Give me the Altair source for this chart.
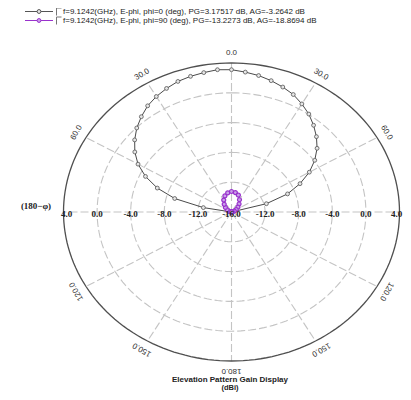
import altair as alt
import numpy as np
import pandas as pd

# ---------------- data ----------------
THETA_PHI0 = list(range(-90, 95, 5))
GAIN_PHI0 = [-16, -16, -12.6, -9.0, -6.6, -4.7, -3.15, -1.95, -0.95, -0.05,
             0.7, 1.4, 1.9, 2.3, 2.65, 2.85, 3.0, 3.17, 3.1, 2.85,
             2.6, 2.25, 1.85, 1.4, 0.75, 0.05, -0.8, -1.7, -2.7, -3.9,
             -5.3, -7.0, -8.9, -11.7, -16, -16, -16]
THETA_PHI90 = list(range(-90, 100, 10))
GAIN_PHI90 = [-16, -15.9, -15.65, -15.4, -15.05, -14.65, -14.15, -13.7, -13.4, -13.25,
              -13.35, -13.6, -14.1, -14.6, -15.0, -15.35, -15.65, -15.9, -16]

LEGEND_LABELS = [
    "f=9.1242(GHz), E-phi, phi=0 (deg), PG=3.17517 dB, AG=-3.2642 dB",
    "f=9.1242(GHz), E-phi, phi=90 (deg), PG=-13.2273 dB, AG=-18.8694 dB",
]
RING_GAINS = [-12, -8, -4, 0]
OUTER_GAIN = 4
CENTER_GAIN = -16
SPOKE_ANGLES = list(range(0, 360, 30))
ANGLE_TICKS = [0, 30, 60, 120, 150, 180, -30, -60, -120, -150]
RADIAL_TICKS = [4, 0, -4, -8, -12, -16, -12, -8, -4, 0, 4]
RADIAL_SIDES = [-90, -90, -90, -90, -90, 0, 90, 90, 90, 90, 90]
RADIAL_NUDGE = [3, 0, 0, 0, 0, 0, 0, 0, 0, 0, -3]   # px, keep edge labels inside
TITLE = "Elevation Pattern Gain Display"
SUBTITLE = "(dBi)"
SIDE_LABEL = "(180\u2212\u03c6)"

# ---------------- layout ----------------
W, H = 395, 384
PCX, PCY = 231.5, 212.0   # page position of polar centre
RX, RY = 168.0, 149.0     # outer ring radii in px
XD = [(8 - PCX) / RX, (8 + W - PCX) / RX]
YD = [(PCY - (8 + H)) / RY, (PCY - 8) / RY]


def pg(px, py):
    return (px - PCX) / RX, (PCY - py) / RY


def xenc(f="x"):
    return alt.X(f"{f}:Q", scale=alt.Scale(domain=XD, nice=False, zero=False), axis=None)


def yenc(f="y"):
    return alt.Y(f"{f}:Q", scale=alt.Scale(domain=YD, nice=False, zero=False), axis=None)


SPAN = OUTER_GAIN - CENTER_GAIN


def polar(chart):
    return chart.transform_calculate(
        r=f"max(0, (datum.gain - ({CENTER_GAIN})) / {SPAN})"
    ).transform_calculate(
        x="datum.r * sin(datum.theta * PI / 180)",
        y="datum.r * cos(datum.theta * PI / 180)",
    )


GRID = "#c4c4c4"

# rings
angles = np.arange(0, 362, 2)
ring_df = pd.DataFrame([{"ring": g, "gain": g, "theta": float(a)} for g in RING_GAINS for a in angles])
outer_df = pd.DataFrame([{"ring": OUTER_GAIN, "gain": OUTER_GAIN, "theta": float(a)} for a in angles])
spoke_df = pd.DataFrame([{"spoke": a, "gain": g, "theta": a, "k": i}
                         for a in SPOKE_ANGLES for i, g in enumerate([CENTER_GAIN, OUTER_GAIN])])

rings = polar(alt.Chart(ring_df)).mark_line(
    color=GRID, strokeWidth=1.1, strokeDash=[8, 3]
).encode(x=xenc(), y=yenc(), detail="ring:N", order="theta:Q")

spokes = polar(alt.Chart(spoke_df)).mark_line(
    color=GRID, strokeWidth=1.1, strokeDash=[8, 3]
).encode(x=xenc(), y=yenc(), detail="spoke:N", order="k:Q")

outer = polar(alt.Chart(outer_df)).mark_line(
    color="#4f4f4f", strokeWidth=1.3
).encode(x=xenc(), y=yenc(), order="theta:Q")

# series
phi0_df = pd.DataFrame({"theta": THETA_PHI0, "gain": GAIN_PHI0})
phi90_df = pd.DataFrame({"theta": THETA_PHI90, "gain": GAIN_PHI90})

C0 = "#4a4a4a"
C90 = "#9932cc"

phi0_line = polar(alt.Chart(phi0_df)).mark_line(color=C0, strokeWidth=1).encode(
    x=xenc(), y=yenc(), order="theta:Q")
phi0_pts = polar(alt.Chart(phi0_df)).mark_point(
    shape="circle", size=15, fill="#e6e6e6", fillOpacity=1, stroke="#555555", strokeWidth=0.8, opacity=1
).encode(x=xenc(), y=yenc())

phi90_line = polar(alt.Chart(phi90_df)).mark_line(color=C90, strokeWidth=1.5).encode(
    x=xenc(), y=yenc(), order="theta:Q")
phi90_pts = polar(alt.Chart(phi90_df)).mark_point(
    shape="circle", size=16, fill="#c9a0e8", fillOpacity=1, stroke=C90, strokeWidth=1.2, opacity=1
).encode(x=xenc(), y=yenc())

# angle labels
LR = 1.065
ang_df = pd.DataFrame({
    "theta": ANGLE_TICKS,
    "label": [f"{abs(a):.1f}" for a in ANGLE_TICKS],
    "rot": [a % 360 for a in ANGLE_TICKS],
})
ang_labels = alt.Chart(ang_df).transform_calculate(
    x=f"{LR} * sin(datum.theta * PI / 180)",
    y=f"{LR} * cos(datum.theta * PI / 180)",
).mark_text(font="Liberation Sans", fontSize=8, color="#333333", baseline="middle", align="center").encode(
    x=xenc(), y=yenc(), text="label:N", angle=alt.Angle("rot:Q", scale=None))

# radial tick labels along horizontal
rad_df = pd.DataFrame({"gain": RADIAL_TICKS, "theta": RADIAL_SIDES, "nudge": RADIAL_NUDGE,
                       "label": [f"{g:.1f}" for g in RADIAL_TICKS]})
rad_labels = polar(alt.Chart(rad_df)).transform_calculate(
    xl=f"datum.x + datum.nudge / {RX}"
).mark_text(
    font="Liberation Serif", fontWeight="bold", fontSize=9, color="#222222",
    baseline="middle", align="center", dy=2
).encode(x=xenc("xl"), y=yenc(), text="label:N")

# side label
sx, sy = pg(36, 206)
side_df = pd.DataFrame({"x": [sx], "y": [sy], "label": [SIDE_LABEL]})
side = alt.Chart(side_df).mark_text(
    font="Liberation Serif", fontWeight="bold", fontSize=9, color="#222222", baseline="middle", align="center"
).encode(x=xenc(), y=yenc(), text="label:N")

# title
t1 = pg(230, 379.5)
t2 = pg(230, 388.3)
title = alt.Chart(pd.DataFrame({"x": [t1[0]], "y": [t1[1]], "label": [TITLE]})).mark_text(
    font="Liberation Sans", fontWeight="bold", fontSize=8, color="#222222", baseline="middle", align="center"
).encode(x=xenc(), y=yenc(), text="label:N")
subtitle = alt.Chart(pd.DataFrame({"x": [t2[0]], "y": [t2[1]], "label": [SUBTITLE]})).mark_text(
    font="Liberation Sans", fontWeight="bold", fontSize=7.5, color="#222222", baseline="middle", align="center"
).encode(x=xenc(), y=yenc(), text="label:N")

# legend
ROWS = [11.5, 20.5]
COLS = [C0, C90]
leg_layers = []
for i, (ry, col, lab) in enumerate(zip(ROWS, COLS, LEGEND_LABELS)):
    a = pg(25, ry)
    b = pg(53, ry)
    ldf = pd.DataFrame({"x": [a[0], b[0]], "y": [a[1], b[1]], "k": [0, 1]})
    leg_layers.append(alt.Chart(ldf).mark_line(color=col if i else "#555555", strokeWidth=1).encode(
        x=xenc(), y=yenc(), order="k:Q"))
    m = pg(39, ry)
    mdf = pd.DataFrame({"x": [m[0]], "y": [m[1]]})
    leg_layers.append(alt.Chart(mdf).mark_point(
        shape="circle", size=15, fill="#e6e6e6" if i == 0 else "#c9a0e8", fillOpacity=1,
        stroke="#555555" if i == 0 else C90, strokeWidth=1, opacity=1).encode(x=xenc(), y=yenc()))
    p1, p2, p3 = pg(56.5, ry + 4), pg(56.5, ry - 3.5), pg(61.5, ry - 3.5)
    bdf = pd.DataFrame({"x": [p1[0], p2[0], p3[0]], "y": [p1[1], p2[1], p3[1]], "k": [0, 1, 2]})
    leg_layers.append(alt.Chart(bdf).mark_line(color="#777777", strokeWidth=1).encode(
        x=xenc(), y=yenc(), order="k:Q"))
    t = pg(63, ry)
    tdf = pd.DataFrame({"x": [t[0]], "y": [t[1]], "label": [lab]})
    leg_layers.append(alt.Chart(tdf).mark_text(
        font="Liberation Sans", fontSize=8, color="#222222", baseline="middle", align="left"
    ).encode(x=xenc(), y=yenc(), text="label:N"))

chart = alt.layer(
    rings, spokes, outer, phi0_line, phi0_pts, phi90_line, phi90_pts,
    ang_labels, rad_labels, side, title, subtitle, *leg_layers
).properties(
    width=W, height=H, padding=0, autosize=alt.AutoSizeParams(type="none"),
    background="white"
).configure_view(stroke=None)

chart.save("out.html", embed_options={"renderer": "svg", "actions": False})
